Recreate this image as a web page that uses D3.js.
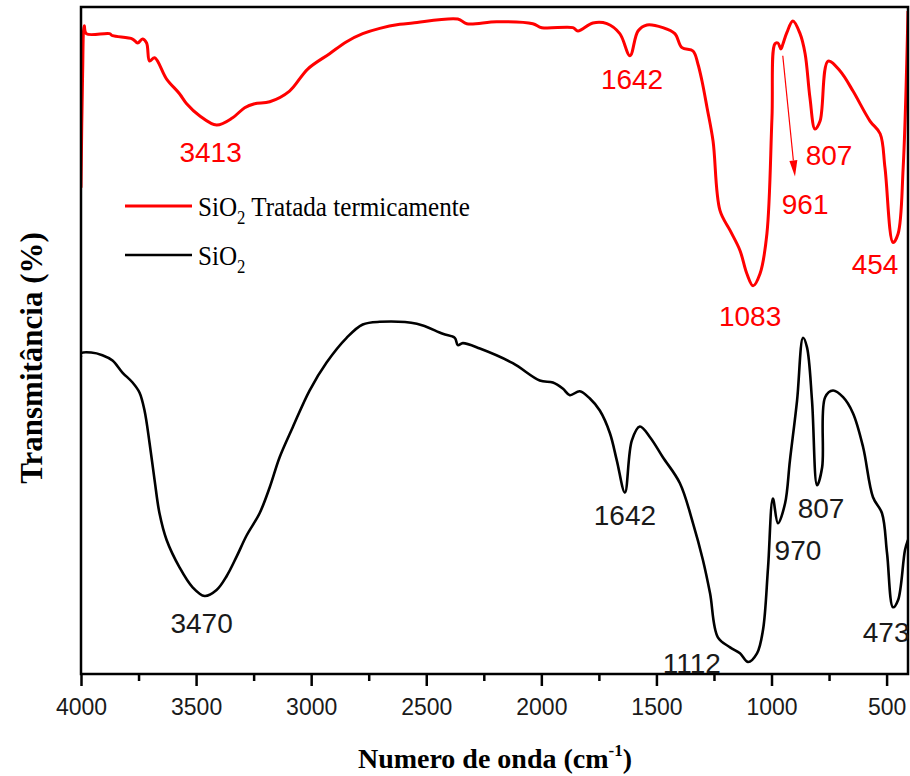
<!DOCTYPE html>
<html>
<head>
<meta charset="utf-8">
<script src="https://cdn.jsdelivr.net/npm/d3@7"></script>
<style>
  html, body { margin: 0; padding: 0; background: #fff; }
  svg { display: block; }
</style>
</head>
<body>
<svg id="chart" width="910" height="776"></svg>
<script>
// ---------------- DATA ----------------
const majorTicks = [4000, 3500, 3000, 2500, 2000, 1500, 1000, 500];
const minorTicks = [3750, 3250, 2750, 2250, 1750, 1250, 750];

const seriesNames = ["SiO2 Tratada termicamente", "SiO2"];

// SiO2 tratada termicamente (red)
const redWavenumber = [4000, 3993, 3986, 3977, 3876, 3863, 3776, 3754, 3733, 3715, 3702, 3680, 3628, 3572, 3541, 3485, 3411, 3341, 3289, 3246, 3180, 3094, 3015, 2920, 2846, 2776, 2702, 2615, 2559, 2363, 2324, 2194, 2037, 1998, 1863, 1841, 1776, 1715, 1659, 1615, 1580, 1541, 1472, 1420, 1389, 1341, 1320, 1302, 1280, 1254, 1224, 1180, 1137, 1107, 1080, 1050, 1020, 998, 985, 972, 959, 950, 933, 907, 876, 854, 833, 811, 789, 754, 702, 646, 572, 528, 507, 472, 450, 428, 407];
const redTransmittance = [72.9, 90.0, 97.2, 96.0, 96.0, 95.7, 95.2, 94.6, 95.2, 94.6, 91.9, 92.4, 89.2, 87.0, 85.5, 83.7, 82.3, 83.4, 84.9, 85.5, 85.8, 87.4, 90.7, 93.0, 94.8, 96.0, 96.8, 97.4, 97.6, 98.2, 97.5, 97.8, 97.5, 96.9, 96.9, 96.4, 97.6, 97.5, 96.0, 92.7, 96.4, 97.3, 96.9, 96.0, 93.9, 93.4, 91.5, 88.9, 84.9, 79.9, 69.5, 66.5, 63.5, 60.0, 58.2, 60.0, 66.0, 83.4, 94.5, 94.6, 93.7, 94.5, 96.2, 97.9, 96.0, 93.0, 86.4, 81.7, 82.9, 91.9, 90.4, 87.4, 82.9, 81.0, 75.9, 64.7, 66.0, 75.9, 99.4];

// SiO2 (black)
const blackWavenumber = [4000, 3999, 3956, 3907, 3863, 3820, 3776, 3746, 3724, 3702, 3680, 3659, 3628, 3572, 3515, 3463, 3411, 3367, 3324, 3280, 3224, 3180, 3137, 3080, 3007, 2933, 2846, 2776, 2702, 2541, 2428, 2376, 2363, 2341, 2267, 2124, 2007, 1950, 1907, 1876, 1833, 1789, 1746, 1702, 1672, 1637, 1607, 1572, 1528, 1472, 1398, 1341, 1298, 1267, 1233, 1180, 1137, 1102, 1063, 1037, 1015, 994, 972, 941, 920, 889, 863, 846, 824, 802, 780, 767, 733, 689, 646, 602, 559, 520, 498, 472, 450, 420, 407];
const blackTransmittance = [47.5, 48.1, 48.2, 47.8, 47.0, 45.2, 43.7, 42.2, 39.5, 34.6, 29.0, 24.1, 20.1, 16.0, 13.0, 11.7, 12.6, 14.7, 17.6, 20.8, 24.1, 28.0, 32.5, 37.0, 42.5, 46.7, 50.4, 52.4, 52.8, 52.5, 51.0, 50.4, 49.3, 49.6, 48.8, 46.6, 44.0, 43.7, 42.8, 41.8, 42.4, 41.3, 39.5, 36.1, 32.0, 27.2, 35.0, 37.1, 35.5, 32.5, 28.6, 22.6, 17.1, 12.1, 5.5, 4.0, 3.1, 1.8, 3.1, 6.6, 16.0, 26.3, 22.6, 25.6, 32.0, 41.0, 50.4, 49.0, 41.0, 28.3, 31.0, 41.5, 42.5, 41.5, 39.1, 34.0, 26.5, 24.1, 18.1, 10.0, 11.1, 18.6, 20.1];

// Peak annotations (label text, anchor wavenumber, anchor transmittance)
const redPeakLabels = ["3413", "1642", "807", "961", "454", "1083"];
const redPeakX = [3437, 1606, 750, 854, 550, 1093];
const redPeakY = [76.8, 87.7, 76.3, 69.0, 60.0, 52.1];

const blackPeakLabels = ["3470", "1642", "1112", "970", "807", "473"];
const blackPeakX = [3476, 1637, 1346, 885, 785, 502];
const blackPeakY = [6.1, 22.3, 0.2, 17.1, 23.4, 4.8];

// Arrow pointing to 961 (red): start / end in data units
const arrowX = [951, 898];
const arrowY = [92.7, 74.6];

// ---------------- CHART ----------------
const W = 910, H = 776;
const plot = { left: 81, right: 908, top: 7, bottom: 674 };
const RED = "#ff0000", BLACK = "#000000", TEXTDARK = "#1a1a1a";

const svg = d3.select("#chart");
svg.append("rect").attr("width", W).attr("height", H).attr("fill", "#fff");

const x = d3.scaleLinear().domain([4000, 407]).range([plot.left, plot.right]);
const y = d3.scaleLinear().domain([0, 100]).range([plot.bottom, plot.top]);

const line = d3.line()
  .x(d => x(d[0]))
  .y(d => y(d[1]))
  .curve(d3.curveCatmullRom.alpha(0.5));

const redData = redWavenumber.map((w, i) => [w, redTransmittance[i]]);
const blackData = blackWavenumber.map((w, i) => [w, blackTransmittance[i]]);

svg.append("defs").append("clipPath").attr("id", "clip")
  .append("rect")
  .attr("x", plot.left).attr("y", plot.top)
  .attr("width", plot.right - plot.left).attr("height", plot.bottom - plot.top);

const g = svg.append("g").attr("clip-path", "url(#clip)");

g.append("path").datum(blackData)
  .attr("d", line).attr("fill", "none")
  .attr("stroke", BLACK).attr("stroke-width", 2.6)
  .attr("stroke-linejoin", "round");

g.append("path").datum(redData)
  .attr("d", line).attr("fill", "none")
  .attr("stroke", RED).attr("stroke-width", 3)
  .attr("stroke-linejoin", "round");

// Frame
svg.append("rect")
  .attr("x", plot.left).attr("y", plot.top)
  .attr("width", plot.right - plot.left).attr("height", plot.bottom - plot.top)
  .attr("fill", "none").attr("stroke", "#000").attr("stroke-width", 2.5);

// Bottom axis (major)
const axMajor = svg.append("g")
  .attr("transform", `translate(0,${plot.bottom})`)
  .call(d3.axisBottom(x).tickValues(majorTicks).tickSize(12).tickPadding(6).tickFormat(d3.format("d")));
axMajor.select(".domain").remove();
axMajor.selectAll(".tick line").attr("stroke", "#000").attr("stroke-width", 2.5);
axMajor.selectAll(".tick text")
  .attr("font-family", "'Liberation Sans', Arial, sans-serif")
  .attr("font-size", 23).attr("fill", TEXTDARK)
  .attr("dy", null).attr("y", 41);

// Minor ticks
const axMinor = svg.append("g")
  .attr("transform", `translate(0,${plot.bottom})`)
  .call(d3.axisBottom(x).tickValues(minorTicks).tickSize(7).tickFormat(""));
axMinor.select(".domain").remove();
axMinor.selectAll(".tick line").attr("stroke", "#000").attr("stroke-width", 2.5);

// Peak labels
const annFont = "'Liberation Sans', Arial, sans-serif";
svg.append("g").selectAll("text").data(redPeakLabels).join("text")
  .attr("x", (d, i) => x(redPeakX[i]))
  .attr("y", (d, i) => y(redPeakY[i]))
  .attr("text-anchor", "middle")
  .attr("font-family", annFont).attr("font-size", 28)
  .attr("fill", RED).text(d => d);

svg.append("g").selectAll("text").data(blackPeakLabels).join("text")
  .attr("x", (d, i) => x(blackPeakX[i]))
  .attr("y", (d, i) => y(blackPeakY[i]))
  .attr("text-anchor", "middle")
  .attr("font-family", annFont).attr("font-size", 28)
  .attr("fill", TEXTDARK).text(d => d);

// Arrow
const ax1 = x(arrowX[0]), ay1 = y(arrowY[0]), ax2 = x(arrowX[1]), ay2 = y(arrowY[1]);
const ang = Math.atan2(ay2 - ay1, ax2 - ax1);
const headLen = 16, headW = 4;
const bx = ax2 - headLen * Math.cos(ang), by = ay2 - headLen * Math.sin(ang);
svg.append("line")
  .attr("x1", ax1).attr("y1", ay1).attr("x2", bx).attr("y2", by)
  .attr("stroke", RED).attr("stroke-width", 1.2);
svg.append("path")
  .attr("d", `M${ax2},${ay2} L${bx + headW * Math.sin(ang)},${by - headW * Math.cos(ang)} L${bx - headW * Math.sin(ang)},${by + headW * Math.cos(ang)} Z`)
  .attr("fill", RED);

// Legend
const serif = "'Liberation Serif', 'Times New Roman', serif";
const legendItems = [
  { color: RED, name: seriesNames[0], ly: 206 },
  { color: BLACK, name: seriesNames[1], ly: 255 }
];
legendItems.forEach(it => {
  svg.append("line")
    .attr("x1", 125).attr("x2", 192).attr("y1", it.ly).attr("y2", it.ly)
    .attr("stroke", it.color).attr("stroke-width", it.color === RED ? 3 : 2.6);
  const t = svg.append("text")
    .attr("transform", `translate(198,${it.ly + 10}) scale(0.93,1)`)
    .attr("font-family", serif).attr("font-size", 27).attr("fill", "#000");
  t.append("tspan").text("SiO");
  t.append("tspan").attr("font-size", 18).attr("dy", 8).text("2");
  const rest = it.name.replace("SiO2", "");
  if (rest.length) t.append("tspan").attr("dy", -8).text(rest);
});

// Axis titles
const xt = svg.append("text")
  .attr("x", 495).attr("y", 768)
  .attr("text-anchor", "middle")
  .attr("font-family", serif).attr("font-weight", "bold").attr("font-size", 28)
  .attr("fill", "#000");
xt.append("tspan").text("Numero de onda (cm");
xt.append("tspan").attr("font-size", 17).attr("dy", -12).text("-1");
xt.append("tspan").attr("dy", 12).text(")");

svg.append("text")
  .attr("transform", "translate(42,358) rotate(-90)")
  .attr("text-anchor", "middle")
  .attr("font-family", serif).attr("font-weight", "bold").attr("font-size", 31)
  .attr("fill", "#000")
  .text("Transmitância (%)");
</script>
</body>
</html>
